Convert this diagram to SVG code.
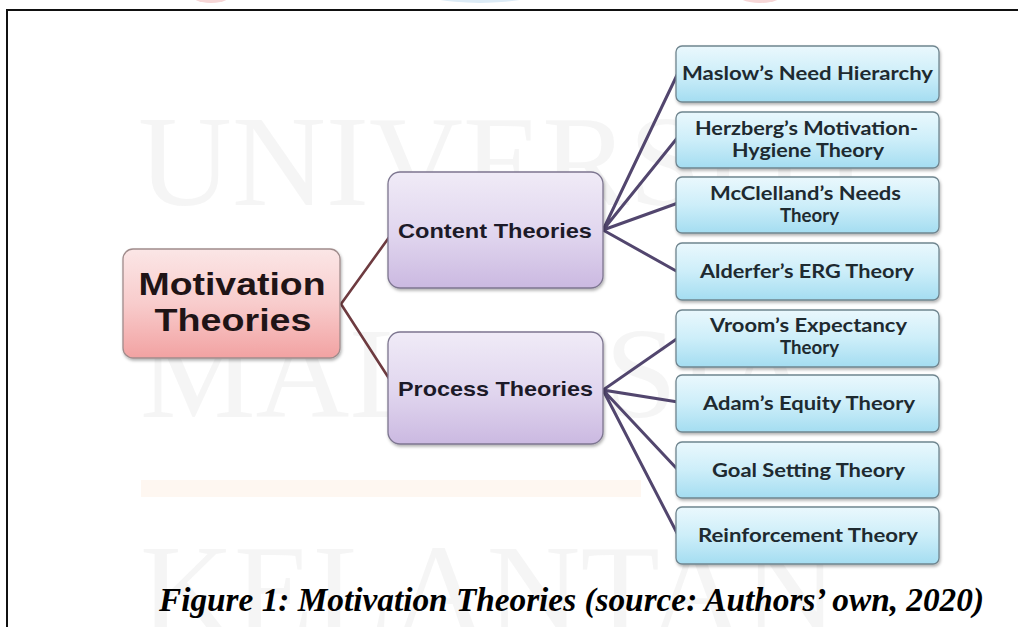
<svg xmlns="http://www.w3.org/2000/svg" width="1018" height="627" viewBox="0 0 1018 627">
<defs>
<linearGradient id="gPink" x1="0" y1="0" x2="0" y2="1">
<stop offset="0" stop-color="#fbe6e6"/><stop offset="0.5" stop-color="#f8cccc"/><stop offset="1" stop-color="#f2a2a2"/>
</linearGradient>
<linearGradient id="gLav" x1="0" y1="0" x2="0" y2="1">
<stop offset="0" stop-color="#f0ebf7"/><stop offset="0.55" stop-color="#e0d5ee"/><stop offset="1" stop-color="#cbb9e1"/>
</linearGradient>
<linearGradient id="gCyan" x1="0" y1="0" x2="0" y2="1">
<stop offset="0" stop-color="#eaf8fd"/><stop offset="0.5" stop-color="#cdeef9"/><stop offset="1" stop-color="#a4ddf1"/>
</linearGradient>
<filter id="sh" x="-10%" y="-10%" width="125%" height="130%">
<feDropShadow dx="1" dy="2" stdDeviation="1.5" flood-color="#000" flood-opacity="0.3"/>
</filter>
<style>
.pink{fill:url(#gPink);stroke:#a08c8c;stroke-width:1.3;filter:url(#sh)}
.lav{fill:url(#gLav);stroke:#7d7690;stroke-width:1.3;filter:url(#sh)}
.cyan{fill:url(#gCyan);stroke:#6f858f;stroke-width:1.3;filter:url(#sh)}
.t1{font-family:"Liberation Sans",Arial,sans-serif;font-weight:bold;font-size:32px;fill:#1f1416;text-anchor:middle}
.t2{font-family:"Liberation Sans",Arial,sans-serif;font-weight:bold;font-size:21px;fill:#1c1a28;text-anchor:middle}
.t3{font-family:Lato,"Open Sans",sans-serif;font-weight:bold;font-size:18.5px;fill:#1e2a30;text-anchor:middle}
.c1{stroke:#6e3b40;stroke-width:2.6;fill:none}
.c2{stroke:#52466e;stroke-width:3;fill:none}
.wm{font-family:"Liberation Serif","Times New Roman",serif;font-size:130px;fill:#8f8f8f;fill-opacity:0.09}
.cap{font-family:"Liberation Serif","Times New Roman",serif;font-weight:bold;font-style:italic;font-size:34px;fill:#000;text-anchor:middle}
</style>
</defs>
<rect width="1018" height="627" fill="#fff"/>
<ellipse cx="211" cy="-10" rx="24" ry="13" fill="#f6d6d6"/>
<ellipse cx="480" cy="-12" rx="66" ry="15" fill="#dcebf6"/>
<ellipse cx="760" cy="-10" rx="27" ry="13" fill="#f6d6d6"/>
<path d="M7,627 V10 H1018" fill="none" stroke="#111" stroke-width="2"/>
<rect x="141" y="480" width="500" height="17" fill="#fbe3cf" fill-opacity="0.3"/>
<g id="watermark">
<text class="wm" x="138" y="205">UNIVERSITI</text>
<text class="wm" x="140" y="417">MALAYSIA</text>
<text class="wm" x="140" y="634">KELANTAN</text>
</g>
<g id="connectors">
<path class="c1" d="M390,236 L341,304 L390,380"/>
<path class="c2" d="M678,73 L603,230 L678,137 M603,230 L678,203 M603,230 L678,272"/>
<path class="c2" d="M678,338 L603,390 L678,402 M603,390 L678,470 M603,390 L678,535"/>
</g>
<g id="motivation">
<rect class="pink" x="123" y="249" width="217" height="109" rx="10"/>
<text class="t1" x="232" y="295" textLength="187" lengthAdjust="spacingAndGlyphs">Motivation</text>
<text class="t1" x="233" y="331" textLength="157" lengthAdjust="spacingAndGlyphs">Theories</text>
</g>
<g id="content">
<rect class="lav" x="388" y="172" width="215" height="116" rx="12"/>
<text class="t2" x="495" y="238" textLength="194" lengthAdjust="spacingAndGlyphs">Content Theories</text>
</g>
<g id="process">
<rect class="lav" x="388" y="332" width="215" height="112" rx="12"/>
<text class="t2" x="495.5" y="396" textLength="195" lengthAdjust="spacingAndGlyphs">Process Theories</text>
</g>
<g id="maslow">
<rect class="cyan" x="676" y="46" width="263" height="56" rx="6"/>
<text class="t3" x="807.5" y="80" textLength="251" lengthAdjust="spacingAndGlyphs">Maslow’s Need Hierarchy</text>
</g>
<g id="herzberg">
<rect class="cyan" x="676" y="112" width="263" height="56" rx="6"/>
<text class="t3" x="806.5" y="135" textLength="223" lengthAdjust="spacingAndGlyphs">Herzberg’s Motivation-</text>
<text class="t3" x="808" y="157" textLength="152" lengthAdjust="spacingAndGlyphs">Hygiene Theory</text>
</g>
<g id="mcclelland">
<rect class="cyan" x="676" y="177" width="263" height="56" rx="6"/>
<text class="t3" x="805.5" y="200" textLength="191" lengthAdjust="spacingAndGlyphs">McClelland’s Needs</text>
<text class="t3" x="809.5" y="222" textLength="59" lengthAdjust="spacingAndGlyphs">Theory</text>
</g>
<g id="alderfer">
<rect class="cyan" x="676" y="243" width="263" height="57" rx="6"/>
<text class="t3" x="807" y="278" textLength="214" lengthAdjust="spacingAndGlyphs">Alderfer’s ERG Theory</text>
</g>
<g id="vroom">
<rect class="cyan" x="676" y="310" width="263" height="57" rx="6"/>
<text class="t3" x="808.5" y="332" textLength="197" lengthAdjust="spacingAndGlyphs">Vroom’s Expectancy</text>
<text class="t3" x="809.5" y="354" textLength="59" lengthAdjust="spacingAndGlyphs">Theory</text>
</g>
<g id="adam">
<rect class="cyan" x="676" y="375" width="263" height="57" rx="6"/>
<text class="t3" x="809" y="410" textLength="212" lengthAdjust="spacingAndGlyphs">Adam’s Equity Theory</text>
</g>
<g id="goal">
<rect class="cyan" x="676" y="442" width="263" height="56" rx="6"/>
<text class="t3" x="808.5" y="477" textLength="193" lengthAdjust="spacingAndGlyphs">Goal Setting Theory</text>
</g>
<g id="reinforcement">
<rect class="cyan" x="676" y="507" width="263" height="57" rx="6"/>
<text class="t3" x="808" y="542" textLength="220" lengthAdjust="spacingAndGlyphs">Reinforcement Theory</text>
</g>
<text class="cap" x="571.5" y="611" textLength="825" lengthAdjust="spacingAndGlyphs">Figure 1: Motivation Theories (source: Authors’ own, 2020)</text>
</svg>
